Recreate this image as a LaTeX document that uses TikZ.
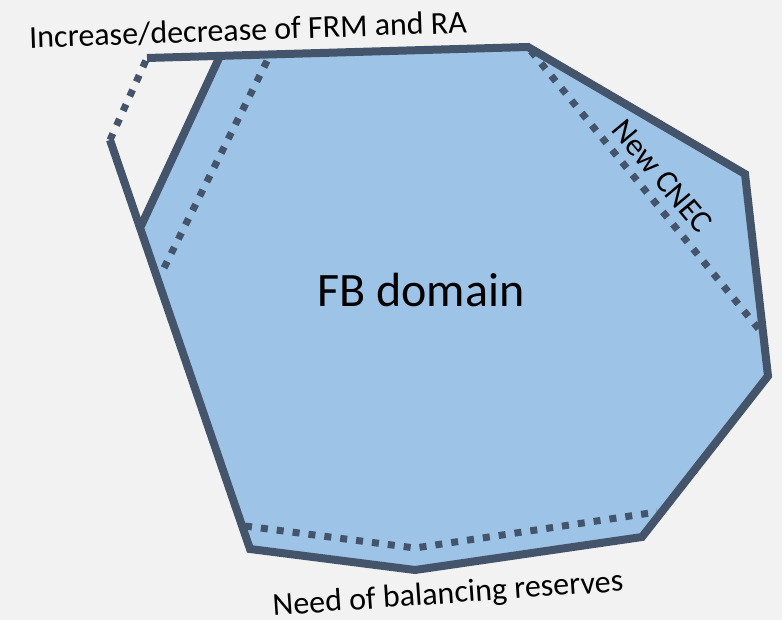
\documentclass[tikz,border=0pt]{standalone}
\usepackage{fontspec}
\setmainfont{Carlito}
\usetikzlibrary{positioning}
\definecolor{rimcol}{HTML}{44546A}
\definecolor{domfill}{HTML}{9DC3E6}
\definecolor{bgcol}{HTML}{F2F2F2}

\begin{document}
\begin{tikzpicture}[x=1pt, y=-1pt,
        rim/.style={draw=rimcol, line width=8pt, line join=miter},
        cut/.style={draw=rimcol, line width=7pt, dash pattern=on 7pt off 9pt},
        txt/.style={font=\fontsize{32}{34}\selectfont, inner sep=0pt}]
    \fill[bgcol] (0,0) rectangle (782,620);
    \useasboundingbox (0,0) rectangle (782,620);

    % corners of the domain
    \coordinate (tl) at (147,58);
    \coordinate (tm) at (220,56);
    \coordinate (tr) at (528,47);
    \coordinate (r1) at (745,174);
    \coordinate (r2) at (768,376);
    \coordinate (b1) at (642,537);
    \coordinate (b2) at (415,570);
    \coordinate (b3) at (250,549);
    \coordinate (lm) at (141,226);
    \coordinate (lt) at (110,140);

    % ends of the dotted cuts
    \coordinate (d1) at (267,61);
    \coordinate (d2) at (162,272);
    \coordinate (c1) at (531,51);
    \coordinate (c2) at (762,333);
    \coordinate (n1) at (245,526);
    \coordinate (n2) at (415,548);
    \coordinate (n3) at (657,512);

    \fill[domfill] (tm) -- (tr) -- (r1) -- (r2) -- (b1) -- (b2) -- (b3) -- (lm) -- cycle;

    \draw[cut] (d1) -- (d2);
    \draw[cut] (c1) -- (c2);
    \draw[cut] (n1) -- (n2) -- (n3);
    \draw[cut] (lt) -- (tl);

    \draw[rim] (tl) -- (tr) -- (r1) -- (r2) -- (b1) -- (b2) -- (b3) -- (lt);
    \draw[rim] (tm) -- (lm);

    \node[txt, rotate=2] (frm) at (248,30) {Increase/decrease of FRM and RA};
    \node[font=\fontsize{48}{50}\selectfont, inner sep=0pt] (fb) at (421,290) {FB domain};
    \node[txt, rotate=-50] (cnec) at (662,176) {New CNEC};
    \node[txt, rotate=4] (bal) at (448,595) {Need of balancing reserves};
\end{tikzpicture}
\end{document}
